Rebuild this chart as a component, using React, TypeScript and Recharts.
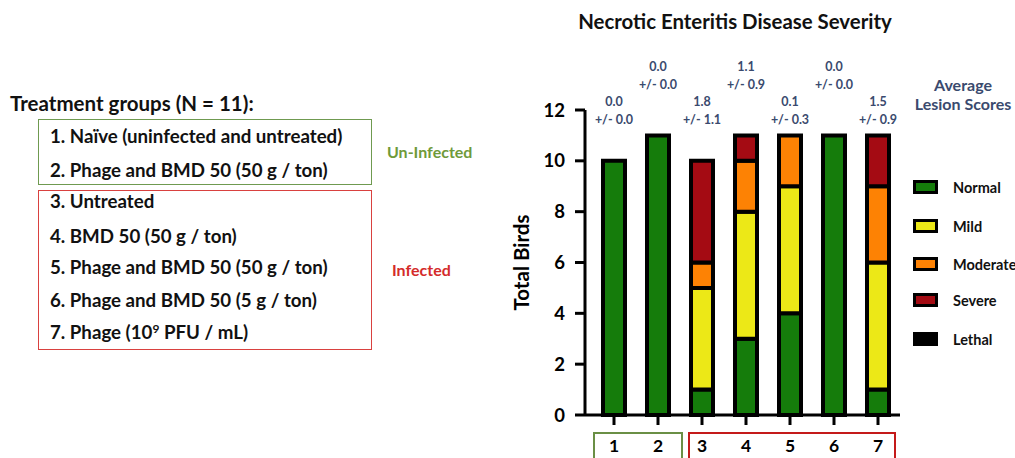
import { BarChart, Bar, XAxis, YAxis, LabelList, Label } from 'recharts';

const groups = ['1', '2', '3', '4', '5', '6', '7'];
const normal = [10, 11, 1, 3, 4, 11, 1];
const mild = [0, 0, 4, 5, 5, 0, 5];
const moderate = [0, 0, 1, 2, 2, 0, 3];
const severe = [0, 0, 4, 1, 0, 0, 2];
const lethal = [0, 0, 0, 0, 0, 0, 0];
const lesionMean = ['0.0', '0.0', '1.8', '1.1', '0.1', '0.0', '1.5'];
const lesionSd = ['0.0', '0.0', '1.1', '0.9', '0.3', '0.0', '0.9'];
const yTicks = [0, 2, 4, 6, 8, 10, 12];

const uninfected = ['1. Naïve (uninfected and untreated)', '2. Phage and BMD 50 (50 g / ton)'];
const infected = [
  '3. Untreated',
  '4. BMD 50 (50 g / ton)',
  '5. Phage and BMD 50 (50 g / ton)',
  '6. Phage and BMD 50 (5 g / ton)',
];

const severities = [
  { key: 'normal', name: 'Normal', color: '#157c0b' },
  { key: 'mild', name: 'Mild', color: '#ece817' },
  { key: 'moderate', name: 'Moderate', color: '#fd8204' },
  { key: 'severe', name: 'Severe', color: '#a40b13' },
  { key: 'lethal', name: 'Lethal', color: '#000000' },
];

const data = groups.map((g, i) => ({
  group: g,
  normal: normal[i],
  mild: mild[i],
  moderate: moderate[i],
  severe: severe[i],
  lethal: lethal[i],
}));

const FONT = 'Lato, "Open Sans", sans-serif';
const BLUE = '#3a4a6e';

// score annotation, positioned off the Normal segment (baseline + scale)
const ScoreLabel = (props: any) => {
  const { x, y, width, height, value, index } = props;
  const base = y + height;
  const ppu = height / value;
  const top = base - 12 * ppu;
  const cx = x + width / 2;
  const raised = index % 2 === 1;
  const y1 = raised ? top - 42 : top - 7;
  return (
    <g fontFamily={FONT} fontWeight={700} fontSize={12.5} fill={BLUE} textAnchor="middle">
      <text x={cx} y={y1} dominantBaseline="middle">{lesionMean[index]}</text>
      <text x={cx} y={y1 + 17.5} dominantBaseline="middle">+/- {lesionSd[index]}</text>
    </g>
  );
};

const lineStyle: React.CSSProperties = {
  position: 'absolute',
  left: 50,
  fontSize: 18.7,
  fontWeight: 700,
  color: '#111',
  whiteSpace: 'nowrap',
  lineHeight: '20px',
};

export default function App() {
  const uninfectedY = [126, 160];
  const infectedY = [191, 226, 257, 290];
  const legendY = [187, 226, 264, 300, 339];
  return (
    <div style={{ position: 'absolute', left: 0, top: 0, width: 1015, height: 458, fontFamily: FONT, background: '#fff', overflow: 'hidden' }}>
      <div style={{ position: 'absolute', left: 10, top: 91, fontSize: 20.5, lineHeight: '24px', fontWeight: 700, color: '#111', whiteSpace: 'nowrap' }}>
        Treatment groups (N = 11):
      </div>
      <div style={{ position: 'absolute', left: 38, top: 119, width: 332, height: 64, border: '1.5px solid #6f9a50' }} />
      <div style={{ position: 'absolute', left: 38, top: 190, width: 332, height: 158, border: '1.5px solid #d9413f' }} />
      {uninfected.map((t, i) => (
        <div key={t} style={{ ...lineStyle, top: uninfectedY[i] }}>{t}</div>
      ))}
      {infected.map((t, i) => (
        <div key={t} style={{ ...lineStyle, top: infectedY[i] }}>{t}</div>
      ))}
      <div style={{ ...lineStyle, top: 322 }}>
        7. Phage (10<sup style={{ fontSize: 12, verticalAlign: 'top', lineHeight: '14px' }}>9</sup> PFU / mL)
      </div>
      <div style={{ position: 'absolute', left: 387, top: 142, fontSize: 16, lineHeight: '20px', fontWeight: 700, color: '#6f9a3a' }}>Un-Infected</div>
      <div style={{ position: 'absolute', left: 392, top: 260, fontSize: 16, lineHeight: '20px', fontWeight: 700, color: '#d42b2b' }}>Infected</div>

      <div style={{ position: 'absolute', left: 480, width: 510, top: 9, textAlign: 'center', fontSize: 20.4, lineHeight: '24px', fontWeight: 700, color: '#111' }}>
        Necrotic Enteritis Disease Severity
      </div>

      <div style={{ position: 'absolute', left: 593, top: 432, width: 86, height: 40, border: '2px solid #6a8f45' }} />
      <div style={{ position: 'absolute', left: 688, top: 432, width: 204, height: 40, border: '2px solid #c41a1a' }} />

      <div style={{ position: 'absolute', left: 0, top: 0 }}>
        <BarChart
          width={1015}
          height={458}
          data={data}
          margin={{ top: 110, right: 115, bottom: 8, left: 485 }}
          barSize={22}
        >
          <XAxis
            dataKey="group"
            padding={{ left: 7, right: 0 }}
            axisLine={{ stroke: '#000', strokeWidth: 3 }}
            tickLine={{ stroke: '#000', strokeWidth: 3 }}
            tickSize={10}
            tickMargin={15}
            height={35}
            tick={{ fill: '#000', fontSize: 17.5, fontWeight: 700, fontFamily: FONT }}
          />
          <YAxis
            domain={[0, 12]}
            ticks={yTicks}
            width={100}
            axisLine={{ stroke: '#000', strokeWidth: 3 }}
            tickLine={{ stroke: '#000', strokeWidth: 3 }}
            tickSize={10}
            tickMargin={10}
            tick={{ fill: '#000', fontSize: 18.5, fontWeight: 700, fontFamily: FONT }}
          >
            <Label
              value="Total Birds"
              angle={-90}
              position="insideLeft"
              offset={37}
              style={{ textAnchor: 'middle', fontSize: 20.5, fontWeight: 700, fill: '#000', fontFamily: FONT }}
            />
          </YAxis>
          {severities.map((s) => (
            <Bar
              key={s.key}
              dataKey={s.key}
              name={s.name}
              stackId="a"
              fill={s.color}
              stroke="#000"
              strokeWidth={4}
              isAnimationActive={false}
            >
              {s.key === 'normal' && <LabelList dataKey="normal" content={ScoreLabel} />}
            </Bar>
          ))}
        </BarChart>
      </div>

      <div style={{ position: 'absolute', left: 910, width: 106, top: 75, textAlign: 'center', fontSize: 16, fontWeight: 700, color: BLUE, lineHeight: '19px', whiteSpace: 'nowrap' }}>
        Average<br />Lesion Scores
      </div>
      {severities.map((s, i) => (
        <div key={s.key} style={{ position: 'absolute', left: 913, top: legendY[i] - 8, height: 16, display: 'flex', alignItems: 'center' }}>
          <div
            style={{
              width: s.key === 'lethal' ? 25 : 19,
              height: s.key === 'lethal' ? 14 : 8,
              background: s.color,
              border: s.key === 'lethal' ? 'none' : '3px solid #000',
            }}
          />
          <span style={{ marginLeft: 15, fontSize: 14.5, fontWeight: 700, color: '#111', whiteSpace: 'nowrap' }}>{s.name}</span>
        </div>
      ))}
    </div>
  );
}
